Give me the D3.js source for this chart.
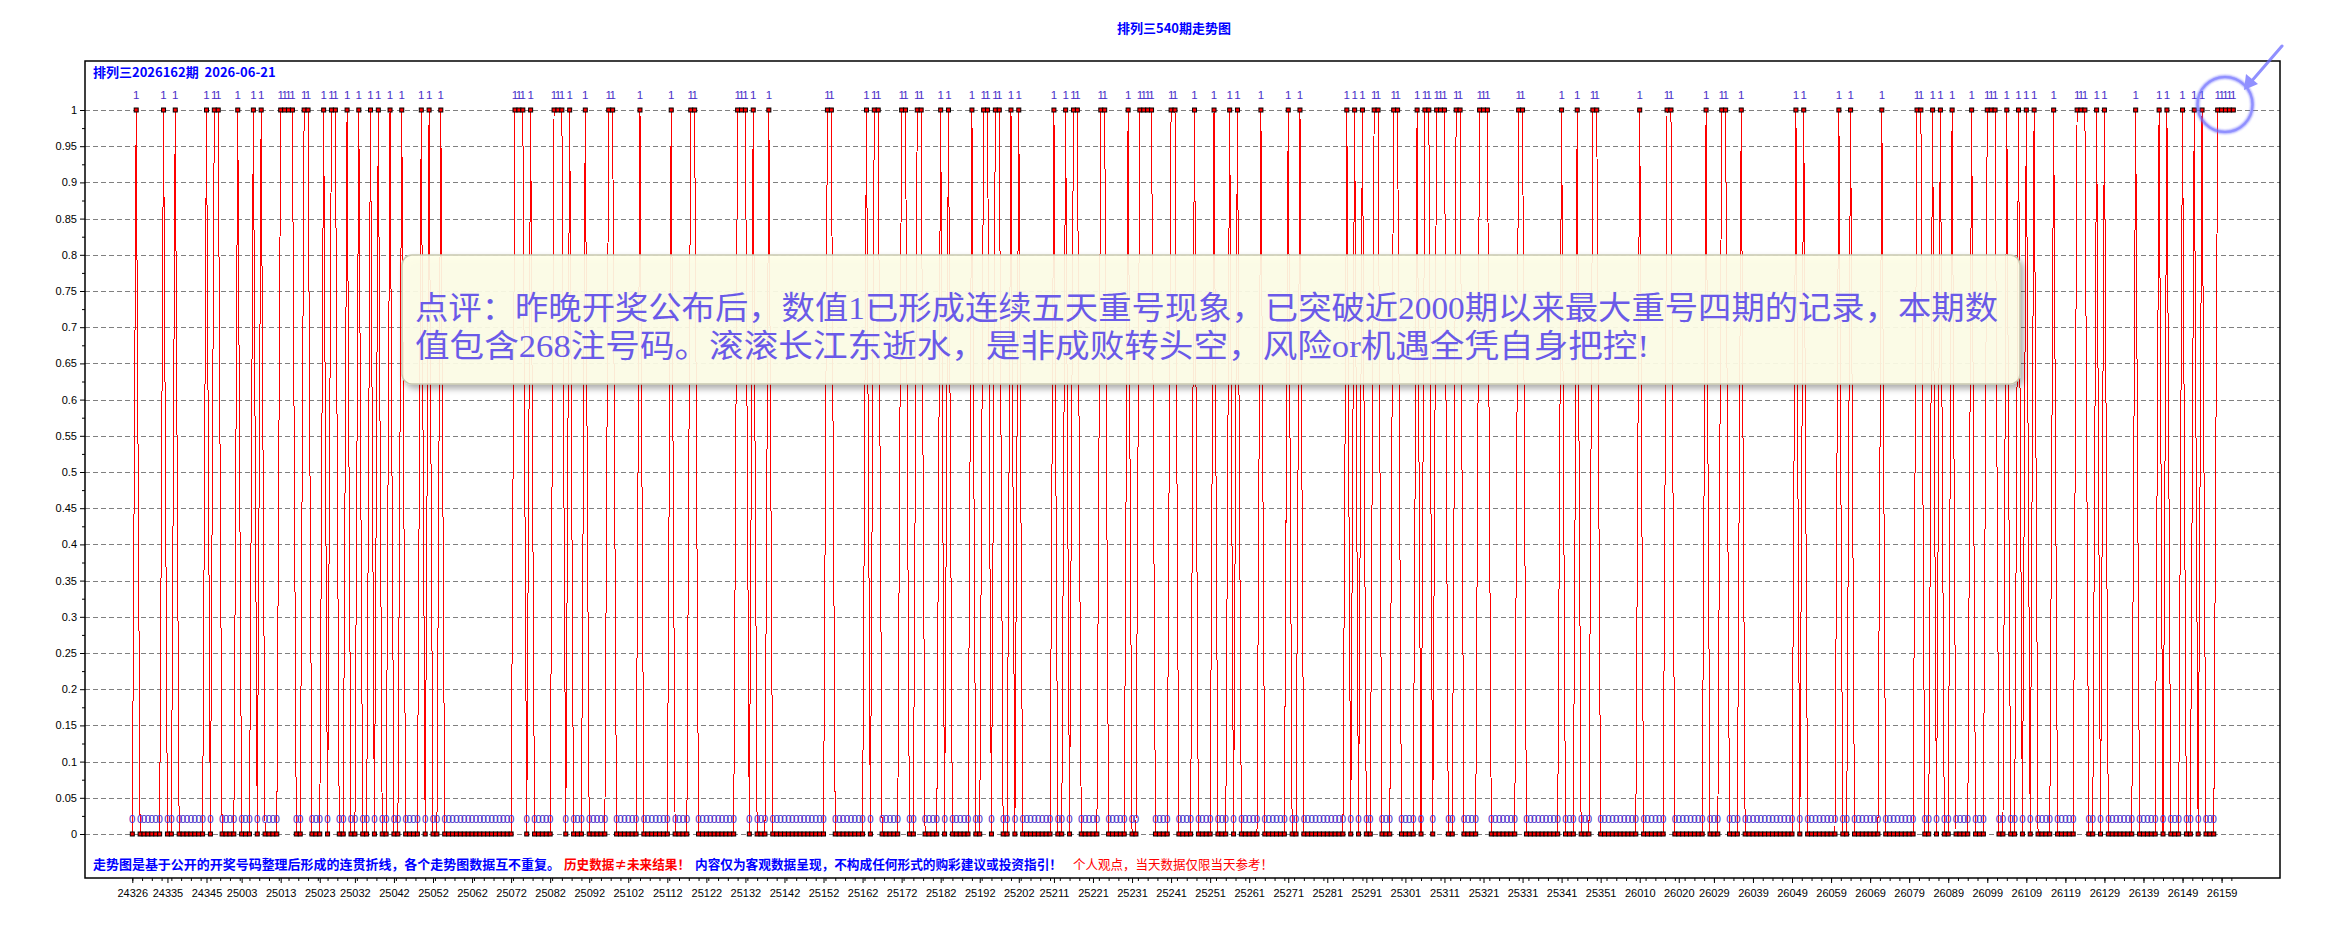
<!DOCTYPE html>
<html>
<head>
<meta charset="utf-8">
<script src="https://cdn.jsdelivr.net/npm/d3@7"></script>
<style>
  body { margin: 0; background: #fff; }
  svg { display: block; font-family: "Noto Sans CJK SC", "Liberation Sans", sans-serif; }
</style>
</head>
<body>
<div id="chart"></div>
<script>
"use strict"
// 期号段 (每年的起止期号)
var periodRanges = [[24326, 24351], [25001, 25351], [26001, 26162]];

// 每期数值: 1 = 重号, 0 = 非重号
var values = [
  0,1,0,0,0,0,0,0,1,0, 0,1,0,0,0,0,0,0,0,1, 0,1,1,0,0,0,0,1,0,0,
  0,1,0,1,0,0,0,0,1,1, 1,1,0,0,1,1,0,0,0,1, 0,1,1,0,0,1,0,0,1,0,
  0,1,0,1,0,0,1,0,0,1, 0,0,0,0,1,0,1,0,0,1, 0,0,0,0,0,0,0,0,0,0,
  0,0,0,0,0,0,0,0,1,1, 1,0,1,0,0,0,0,0,1,1, 1,0,1,0,0,0,1,0,0,0,
  0,0,1,1,0,0,0,0,0,0, 1,0,0,0,0,0,0,0,1,0, 0,0,0,1,1,0,0,0,0,0,
  0,0,0,0,0,1,1,1,0,1, 0,0,0,1,0,0,0,0,0,0, 0,0,0,0,0,0,0,0,1,1,
  0,0,0,0,0,0,0,0,1,0, 1,1,0,0,0,0,0,1,1,0, 0,1,1,0,0,0,0,1,0,1,
  0,0,0,0,0,1,0,0,1,1, 0,1,1,0,0,1,0,1,0,0, 0,0,0,0,0,0,1,0,0,1,
  0,1,1,0,0,0,0,0,1,1, 0,0,0,0,0,1,0,0,1,1, 1,1,0,0,0,0,1,1,0,0,
  0,0,1,0,0,0,0,1,0,0, 0,1,0,1,0,0,0,0,0,1, 0,0,0,0,0,0,1,0,0,1,
  0,0,0,0,0,0,0,0,0,0, 0,1,0,1,0,1,0,0,1,1, 0,0,0,1,1,0,0,0,0,1,
  0,1,1,0,1,1,1,0,0,1, 1,0,0,0,0,1,1,1,0,0, 0,0,0,0,0,1,1,0,0,0,
  0,0,0,0,0,0,1,0,0,0, 1,0,0,0,1,1,0,0,0,0, 0,0,0,0,0,0,1,0,0,0,
  0,0,0,1,1,0,0,0,0,0, 0,0,0,1,0,0,0,1,1,0, 0,0,1,0,0,0,0,0,0,0,
  0,0,0,0,0,0,1,0,1,0, 0,0,0,0,0,0,0,1,0,0, 1,0,0,0,0,0,0,0,1,0,
  0,0,0,0,0,0,0,1,1,0, 0,1,0,1,0,0,1,0,0,0, 0,1,0,0,0,1,1,1,0,0,
  1,0,0,1,0,1,0,1,0,0, 0,0,1,0,0,0,0,0,1,1, 1,0,0,1,0,1,0,0,0,0,
  0,0,0,1,0,0,0,0,0,1, 0,1,0,0,0,1,0,0,1,0, 1,0,0,0,1,1,1,1,1
];

// x 轴刻度标签 (期号)
var xTickLabels = [
  "24326","24335","24345","25003","25013","25023","25032","25042","25052","25062",
  "25072","25082","25092","25102","25112","25122","25132","25142","25152","25162",
  "25172","25182","25192","25202","25211","25221","25231","25241","25251","25261",
  "25271","25281","25291","25301","25311","25321","25331","25341","25351","26010",
  "26020","26029","26039","26049","26059","26069","26079","26089","26099","26109",
  "26119","26129","26139","26149","26159"
];

// y 轴刻度
var yTickValues = [0, 0.05, 0.1, 0.15, 0.2, 0.25, 0.3, 0.35, 0.4, 0.45, 0.5,
                   0.55, 0.6, 0.65, 0.7, 0.75, 0.8, 0.85, 0.9, 0.95, 1];

var chartTitle = "排列三540期走势图";
var issueLabel = "排列三2026162期  2026-06-21";
var commentLines = [
  "点评：昨晚开奖公布后，数值1已形成连续五天重号现象，已突破近2000期以来最大重号四期的记录，本期数",
  "值包含268注号码。滚滚长江东逝水，是非成败转头空，风险or机遇全凭自身把控!"
];
var footNotes = [
  {text: "走势图是基于公开的开奖号码整理后形成的连贯折线，各个走势图数据互不重复。", color: "#0000ff", bold: true},
  {text: "历史数据≠未来结果！", color: "#ff0000", bold: true},
  {text: "内容仅为客观数据呈现，不构成任何形式的购彩建议或投资指引！", color: "#0000ff", bold: true},
  {text: "个人观点，当天数据仅限当天参考！", color: "#ff0000", bold: false}
];

// 期号列表
var periods = [];
periodRanges.forEach(function(r) {
  for (var p = r[0]; p <= r[1]; p++) periods.push(String(p));
});

// layout
var width = 2350, height = 925;
var frame = {left: 85, top: 61, right: 2280, bottom: 878};

var xScale = d3.scaleLinear().domain([0, values.length - 1]).range([132.3, 2233.3]);
var yScale = d3.scaleLinear().domain([0, 1]).range([834, 110]);

var svg = d3.select("#chart").append("svg")
    .attr("width", width)
    .attr("height", height);

svg.append("rect").attr("width", width).attr("height", height).attr("fill", "#fff");

var defs = svg.append("defs");
var shadow = defs.append("filter").attr("id", "boxShadow")
    .attr("x", "-5%").attr("y", "-20%").attr("width", "110%").attr("height", "150%");
shadow.append("feDropShadow").attr("dx", 3).attr("dy", 4).attr("stdDeviation", 3)
    .attr("flood-color", "#000").attr("flood-opacity", 0.35);
var glow = defs.append("filter").attr("id", "glow")
    .attr("x", "-50%").attr("y", "-50%").attr("width", "200%").attr("height", "200%");
glow.append("feGaussianBlur").attr("stdDeviation", 1.2);

// title
svg.append("text")
    .attr("x", 1174).attr("y", 33)
    .attr("text-anchor", "middle")
    .attr("font-size", 13).attr("font-weight", "bold")
    .attr("fill", "#0000ff")
    .text(chartTitle);

// gridlines
svg.append("g").selectAll("line").data(yTickValues).enter().append("line")
    .attr("x1", frame.left).attr("x2", frame.right)
    .attr("y1", function(d) { return Math.round(yScale(d)) + 0.5; })
    .attr("y2", function(d) { return Math.round(yScale(d)) + 0.5; })
    .attr("stroke", "#808080")
    .attr("stroke-dasharray", "5,3");

// y axis (major + minor ticks)
var yAxis = d3.axisLeft(yScale).tickValues(yTickValues).tickSize(5).tickPadding(3)
    .tickFormat(function(d) { return String(d); });
var gy = svg.append("g").attr("transform", "translate(" + frame.left + ",0)").call(yAxis);
gy.select(".domain").remove();
gy.selectAll("text").attr("font-size", 11).attr("fill", "#000")
    .attr("font-family", "'Liberation Sans', Arial, sans-serif");
var yMinor = d3.axisLeft(yScale)
    .tickValues(yTickValues.slice(1).map(function(d) { return d - 0.025; }))
    .tickSize(3).tickFormat("");
svg.append("g").attr("transform", "translate(" + frame.left + ",0)").call(yMinor)
    .select(".domain").remove();

// x axis
var tickIdx = xTickLabels.map(function(l) { return periods.indexOf(l); });
var xAxis = d3.axisBottom(xScale).tickValues(tickIdx).tickSize(5).tickPadding(6)
    .tickFormat(function(i) { return periods[i]; });
var gx = svg.append("g").attr("transform", "translate(0," + frame.bottom + ")").call(xAxis);
gx.select(".domain").remove();
gx.selectAll("text").attr("font-size", 11).attr("fill", "#000")
    .attr("font-family", "'Liberation Sans', Arial, sans-serif");
var xMinor = d3.axisBottom(xScale)
    .tickValues(d3.range(0, values.length, 2.5))
    .tickSize(3).tickFormat("");
svg.append("g").attr("transform", "translate(0," + frame.bottom + ")").call(xMinor)
    .select(".domain").remove();

// frame
svg.append("rect")
    .attr("x", frame.left).attr("y", frame.top)
    .attr("width", frame.right - frame.left).attr("height", frame.bottom - frame.top)
    .attr("fill", "none").attr("stroke", "#000").attr("stroke-width", 1.5);

// issue label
svg.append("text")
    .attr("x", 93).attr("y", 77)
    .attr("font-size", 13).attr("font-weight", "bold")
    .attr("fill", "#0000ff")
    .attr("xml:space", "preserve")
    .text(issueLabel);

// trend line
var line = d3.line()
    .x(function(d, i) { return xScale(i); })
    .y(function(d) { return yScale(d); });
svg.append("path")
    .datum(values)
    .attr("d", line)
    .attr("fill", "none")
    .attr("stroke", "#ff0000")
    .attr("stroke-width", 1)
    .attr("shape-rendering", "crispEdges");

// markers
svg.append("g").selectAll("rect").data(values).enter().append("rect")
    .attr("x", function(d, i) { return xScale(i) - 2; })
    .attr("y", function(d) { return yScale(d) - 2; })
    .attr("width", 4).attr("height", 4)
    .attr("fill", "#ff0000")
    .attr("stroke", "#000").attr("stroke-width", 1);

// value labels
svg.append("g").selectAll("text").data(values).enter().append("text")
    .attr("x", function(d, i) { return xScale(i); })
    .attr("y", function(d) { return yScale(d) - 11; })
    .attr("text-anchor", "middle")
    .attr("font-size", 11.5)
    .attr("font-family", "'Liberation Sans', Arial, sans-serif")
    .attr("fill", "#4a2fc8")
    .text(function(d) { return d; });

// comment box
svg.append("rect")
    .attr("x", 402).attr("y", 255).attr("width", 1618).attr("height", 129)
    .attr("rx", 10).attr("ry", 10)
    .attr("fill", "#ffffe8").attr("fill-opacity", 0.9)
    .attr("stroke", "#c8c8b0").attr("stroke-width", 1.5)
    .attr("filter", "url(#boxShadow)");
var lineWidths = [1583, 1234];
svg.append("g").selectAll("text").data(commentLines).enter().append("text")
    .attr("x", 415)
    .attr("y", function(d, i) { return 319 + i * 38; })
    .attr("font-size", 32)
    .attr("font-family", "'Liberation Serif', 'Noto Sans CJK SC', serif")
    .attr("fill", "#6a5ae8")
    .attr("textLength", function(d, i) { return lineWidths[i]; })
    .attr("lengthAdjust", "spacingAndGlyphs")
    .text(function(d) { return d; });

// foot notes
var noteX = [93, 564, 695, 1073];
var noteW = [467, 126, 367, 200];
svg.append("g").selectAll("text").data(footNotes).enter().append("text")
    .attr("x", function(d, i) { return noteX[i]; })
    .attr("y", 869)
    .attr("font-size", 13)
    .attr("font-weight", function(d) { return d.bold ? "bold" : "normal"; })
    .attr("fill", function(d) { return d.color; })
    .attr("textLength", function(d, i) { return noteW[i]; })
    .attr("lengthAdjust", "spacingAndGlyphs")
    .text(function(d) { return d.text; });

// highlight circle + arrow
var mark = svg.append("g").attr("opacity", 0.75);
mark.append("circle")
    .attr("cx", 2225).attr("cy", 104.5).attr("r", 27.5)
    .attr("fill", "none").attr("stroke", "#6b6bff").attr("stroke-width", 3.5)
    .attr("filter", "url(#glow)");
mark.append("circle")
    .attr("cx", 2225).attr("cy", 104.5).attr("r", 27.5)
    .attr("fill", "none").attr("stroke", "#6b6bff").attr("stroke-width", 2);
mark.append("line")
    .attr("x1", 2282).attr("y1", 46).attr("x2", 2250).attr("y2", 83)
    .attr("stroke", "#6b6bff").attr("stroke-width", 3).attr("stroke-linecap", "round");
mark.append("path")
    .attr("d", "M2244,90 L2246,74 L2258,84 Z")
    .attr("fill", "#6b6bff");
</script>
</body>
</html>
